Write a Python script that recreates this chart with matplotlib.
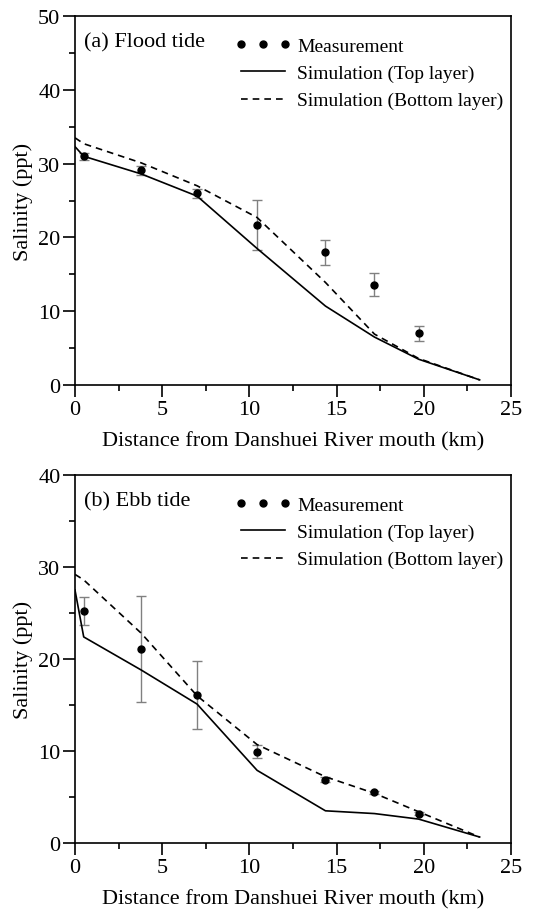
import matplotlib.pyplot as plt
from matplotlib.ticker import MultipleLocator

plt.rcParams['font.family'] = ['Liberation Serif', 'DejaVu Serif']

# station positions (km from river mouth)
stations = [0.5, 3.8, 7.0, 10.44, 14.36, 17.17, 19.7]
sim_x = [0.0, 0.5, 3.8, 7.0, 10.44, 14.36, 17.17, 19.7, 23.2]

# (a) flood tide
flood_meas = [31.0, 29.1, 26.0, 21.7, 18.0, 13.6, 7.0]
flood_err = [0.5, 0.6, 0.6, 3.4, 1.7, 1.6, 1.0]
flood_top = [32.3, 31.0, 28.6, 25.6, 18.5, 10.7, 6.5, 3.5, 0.7]
flood_bot = [33.5, 32.7, 30.1, 27.0, 22.7, 13.9, 6.9, 3.6, 0.7]

# (b) ebb tide
ebb_meas = [25.2, 21.1, 16.1, 9.9, 6.9, 5.5, 3.2]
ebb_err = [1.5, 5.8, 3.7, 0.7, 0.3, 0.2, 0.2]
ebb_top = [27.5, 22.4, 18.8, 15.1, 7.9, 3.5, 3.2, 2.6, 0.65]
ebb_bot = [29.2, 28.6, 22.8, 16.0, 10.7, 7.2, 5.4, 3.4, 0.65]

panels = [
    ('(a) Flood tide', flood_meas, flood_err, flood_top, flood_bot, 50),
    ('(b) Ebb tide', ebb_meas, ebb_err, ebb_top, ebb_bot, 40),
]

fig = plt.figure(figsize=(5.53, 9.2), dpi=100)
boxes = [[0.1356, 0.5804, 0.7885, 0.4011], [0.1356, 0.0826, 0.7885, 0.4]]

for box, (title, meas, err, top, bot, ymax) in zip(boxes, panels):
    ax = fig.add_axes(box)
    ax.errorbar(stations, meas, yerr=err, fmt='none', ecolor='#808080',
                elinewidth=1.0, capsize=3.5, capthick=1.0)
    ax.plot(stations, meas, 'o', color='black', markersize=5,
            linestyle='none', label='Measurement')
    ax.plot(sim_x, top, '-', color='black', lw=1.2,
            label='Simulation (Top layer)')
    ax.plot(sim_x, bot, '--', color='black', lw=1.2, dashes=(4, 3),
            label='Simulation (Bottom layer)')

    ax.set_xlim(0, 25)
    ax.set_ylim(0, ymax)
    ax.xaxis.set_major_locator(MultipleLocator(5))
    ax.xaxis.set_minor_locator(MultipleLocator(2.5))
    ax.yaxis.set_major_locator(MultipleLocator(10))
    ax.yaxis.set_minor_locator(MultipleLocator(5))
    ax.tick_params(which='both', direction='out', labelsize=16, width=1.2)
    ax.tick_params(which='major', length=8.5, pad=2)
    ax.tick_params(which='minor', length=4.5)
    for s in ax.spines.values():
        s.set_linewidth(1.2)

    ax.set_xlabel('Distance from Danshuei River mouth (km)', fontsize=16,
                  labelpad=9)
    ax.set_ylabel('Salinity (ppt)', fontsize=16, labelpad=4)
    ax.text(0.02, 0.955, title, transform=ax.transAxes, fontsize=16,
            va='top', ha='left')
    ax.legend(loc='upper left', bbox_to_anchor=(0.335, 0.98), frameon=False,
              fontsize=14, numpoints=3, handlelength=2.9, handletextpad=0.3,
              labelspacing=0.5, borderpad=0.2)

fig.savefig('out.png', dpi=100)
